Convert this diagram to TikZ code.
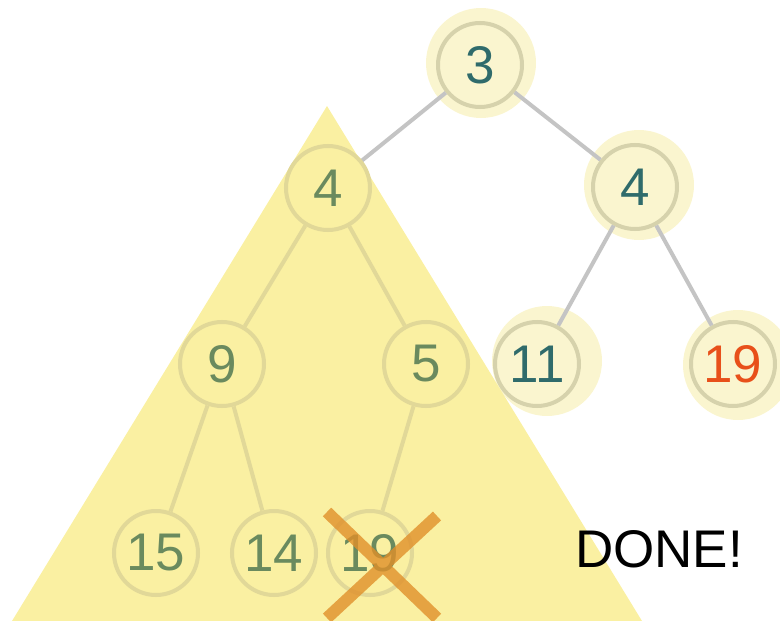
\documentclass[tikz,border=0pt]{standalone}
\usepackage{fontspec}
\setmainfont{Liberation Sans}
\usepackage{tikz}
\usetikzlibrary{positioning}
\definecolor{hteal}{HTML}{2F6B6B}
\definecolor{hred}{HTML}{E8501A}
\definecolor{hgreen}{HTML}{6A8A5E}
\definecolor{hhalo}{HTML}{FAF5CF}
\definecolor{hring}{HTML}{D6D2AC}
\definecolor{hedge}{HTML}{C4C4C4}
\definecolor{htri}{HTML}{FAF0A2}
\definecolor{hfade}{HTML}{E1D898}
\definecolor{hcross}{HTML}{E0902A}
\tikzset{
  hnode/.style={circle, draw=hring, line width=4pt, minimum size=84pt,
                inner sep=0pt, text=hteal, font=\fontsize{53}{53}\selectfont},
  hfaded/.style={hnode, draw=hfade, text=hgreen},
  hhalofill/.style={fill=hhalo},
  hedgeline/.style={draw=hedge, line width=4pt},
  hfadeline/.style={draw=hfade, line width=4pt},
  hcrossline/.style={draw=hcross, line width=12pt, opacity=0.8},
  hdone/.style={black, font=\fontsize{53}{53}\selectfont},
}

\begin{document}
\begin{tikzpicture}[x=1pt,y=-1pt]
  \useasboundingbox (0,0) rectangle (780,621);

  % halos
  \foreach \x/\y in {481/63, 639/185, 547/361, 738/365}
    \fill[hhalofill] (\x,\y) circle (55);

  % upper tree
  \node[hnode] (n3) at (480,65) {3};
  \node[hnode] (r4) at (635,187) {4};
  \node[hnode] (n11) at (537,364) {11};
  \node[hnode, text=hred] (r19) at (733,364) {19};
  \coordinate (l4c) at (328,188);

  \draw[hedgeline] (n3) -- (l4c);
  \foreach \a/\b in {n3/r4, r4/n11, r4/r19}
    \draw[hedgeline] (\a) -- (\b);

  % subtree
  \fill[htri] (327,106) -- (12,621) -- (642,621) -- cycle;

  \node[hfaded] (l4) at (l4c) {4};
  \node[hfaded] (l9) at (222,364) {9};
  \node[hfaded] (l5) at (426,364) {5};
  \node[hfaded] (l15) at (156,553) {15};
  \node[hfaded] (l14) at (274,553) {14};
  \node[hfaded] (l19) at (370,553) {19};

  \foreach \a/\b in {l4/l9, l4/l5, l9/l15, l9/l14, l5/l19}
    \draw[hfadeline] (\a) -- (\b);

  \draw[hcrossline] (327,512) -- (437,618) (437,516) -- (327,618);

  \node[hdone] (done) at (659,549) {DONE!};

\end{tikzpicture}
\end{document}
